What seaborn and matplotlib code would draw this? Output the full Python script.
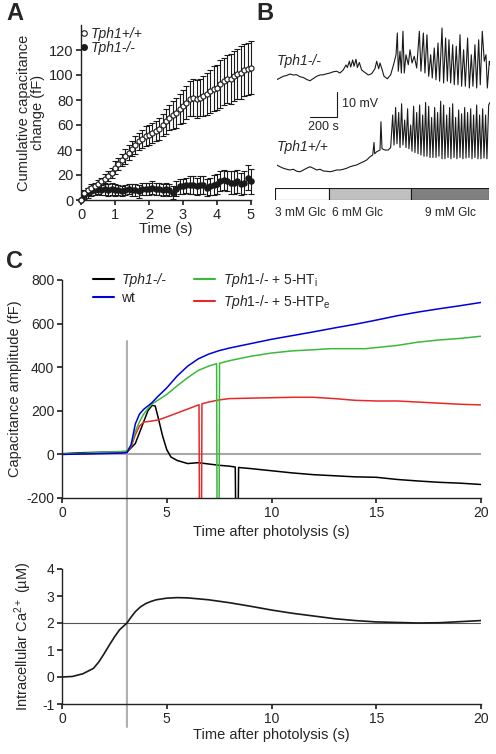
import numpy as np
import matplotlib
matplotlib.use("Agg")
import matplotlib.pyplot as plt
import seaborn as sns
from matplotlib.patches import ConnectionPatch
from matplotlib.lines import Line2D

#Style
sns.set_theme(style="ticks")
plt.rcParams["font.family"] = ["Liberation Sans", "DejaVu Sans"]
plt.rcParams["axes.unicode_minus"] = False
plt.rcParams["mathtext.fontset"] = "custom"
plt.rcParams["mathtext.rm"] = "Liberation Sans"
plt.rcParams["mathtext.it"] = "Liberation Sans:italic"
plt.rcParams["axes.edgecolor"] = "#222222"
plt.rcParams["axes.linewidth"] = 1.0
plt.rcParams["xtick.major.size"] = 3.5
plt.rcParams["ytick.major.size"] = 3.5
plt.rcParams["xtick.major.pad"] = 2
plt.rcParams["ytick.major.pad"] = 2
plt.rcParams["xtick.labelsize"] = 10
plt.rcParams["ytick.labelsize"] = 10
plt.rcParams["axes.labelsize"] = 10.5

#Panel A data (every 0.1 s)
t_a = np.linspace(0, 5, 51)
wt_mean = [0, 6, 8, 10, 11, 13, 15, 17, 19, 22, 26, 29, 32, 35, 38, 41, 44, 47, 49, 51,
           52, 54, 55, 57, 60, 63, 66, 68, 70, 73, 75, 78, 81, 82, 81, 82, 83, 85, 87, 89,
           90, 93, 95, 97, 97, 99, 101, 102, 104, 105, 106]
wt_err = [0, 2, 2, 3, 3, 3, 3, 4, 4, 4, 5, 5, 5, 6, 6, 6, 7, 7, 7, 8,
          8, 8, 8, 9, 9, 10, 10, 11, 12, 12, 13, 13, 14, 15, 15, 15, 16, 17, 17, 18,
          18, 19, 19, 19, 20, 20, 20, 21, 21, 21, 21]
ko_mean = [0, 4, 6, 7, 8, 9, 8, 9, 8, 9, 8, 8, 7, 8, 9, 8, 8, 7, 9, 9,
           9, 10, 9, 9, 8, 9, 8, 6, 9, 11, 11, 12, 12, 12, 11, 12, 12, 10, 11, 12,
           13, 15, 16, 15, 14, 14, 15, 13, 14, 18, 15]
ko_err = [0, 3, 4, 4, 4, 4, 4, 5, 5, 5, 5, 4, 4, 4, 4, 5, 5, 5, 5, 5,
          5, 5, 5, 5, 5, 5, 5, 5, 6, 6, 6, 6, 7, 7, 7, 7, 7, 7, 7, 8,
          8, 8, 8, 8, 9, 9, 9, 9, 9, 10, 10]

#Panel B data (time in s, membrane potential in mV, arbitrary offset)
t_ko = [0, 25, 50, 75, 100, 125, 150, 175, 200, 225, 250, 275, 300, 325, 350, 375, 400, 425, 450, 475,
        500, 520, 530, 545, 555, 570, 580, 595, 605, 620, 637, 662, 687, 712, 737, 750, 765, 775, 787, 805,
        830, 855, 880, 895, 905, 912, 925, 935, 947, 957, 970, 987, 1000, 1015, 1032, 1050, 1070, 1082, 1100, 1112,
        1127, 1140, 1155, 1167, 1182, 1195, 1210, 1222, 1240, 1252, 1267, 1280, 1292, 1305, 1320, 1332, 1347, 1360, 1375, 1387,
        1402, 1415, 1432, 1445, 1460, 1472, 1487, 1500, 1515, 1527, 1542, 1557, 1570, 1580, 1595, 1600]
mv_ko = [38.1, 38.8, 39.5, 39.8, 40.4, 40.0, 40.1, 39.3, 39.0, 38.2, 37.7, 38.6, 39.5, 40.0, 40.1, 40.5, 40.8, 41.3, 41.5, 40.8,
         42.1, 44.0, 43.0, 45.5, 43.2, 46.0, 43.5, 46.3, 43.0, 45.0, 42.0, 41.0, 40.0, 40.5, 42.5, 45.5, 42.5, 44.8, 42.8, 39.5,
         38.5, 40.1, 44.8, 48.1, 56.8, 41.5, 49.5, 40.8, 57.5, 40.8, 48.1, 44.1, 50.1, 44.8, 47.5, 42.8, 57.5, 41.5, 56.8, 40.8,
         56.1, 39.5, 48.1, 38.8, 50.8, 38.1, 52.8, 37.5, 58.8, 36.8, 54.8, 37.5, 54.1, 36.8, 52.1, 36.1, 51.5, 36.1, 56.1, 35.5,
         50.1, 35.5, 54.8, 34.8, 48.1, 35.5, 52.1, 34.8, 54.1, 36.1, 57.5, 45.5, 48.1, 34.8, 45.5, 44.1]
t_wt = [0, 25, 50, 75, 100, 125, 150, 175, 200, 225, 250, 275, 300, 325, 350, 375, 400, 425, 450, 475,
        500, 525, 550, 575, 600, 625, 650, 675, 700, 720, 730, 735, 750, 775, 782, 790, 812, 837, 855, 870,
        880, 892, 902, 915, 925, 937, 947, 960, 970, 982, 992, 1005, 1015, 1027, 1037, 1050, 1060, 1072, 1082, 1095,
        1105, 1117, 1127, 1140, 1150, 1162, 1172, 1185, 1195, 1207, 1217, 1230, 1240, 1252, 1262, 1275, 1285, 1297, 1307, 1320,
        1330, 1342, 1352, 1365, 1375, 1387, 1397, 1410, 1420, 1432, 1442, 1455, 1465, 1477, 1487, 1500, 1510, 1522, 1532, 1545,
        1555, 1567, 1577, 1590, 1600]
mv_wt = [4.0, 3.3, 2.7, 2.3, 2.0, 2.3, 1.5, 1.3, 2.0, 2.7, 3.3, 2.7, 2.0, 2.3, 1.6, 1.5, 1.3, 1.6, 2.0, 2.0,
         2.3, 2.7, 3.3, 3.7, 4.0, 4.7, 5.3, 6.0, 7.3, 8.0, 13.0, 8.5, 9.3, 10.0, 21.3, 10.5, 10.0, 10.0, 11.0, 24.0,
         12.0, 27.0, 12.5, 25.0, 11.0, 28.5, 12.0, 22.0, 11.0, 26.5, 10.5, 20.0, 9.5, 27.5, 9.0, 25.0, 8.5, 28.0, 8.0, 24.0,
         7.5, 29.0, 7.5, 27.5, 7.0, 23.0, 7.0, 27.0, 7.0, 25.0, 7.5, 29.5, 6.5, 28.0, 6.5, 24.0, 7.0, 27.0, 6.5, 28.5,
         7.0, 23.0, 6.5, 26.0, 7.0, 24.5, 6.5, 27.0, 6.8, 25.0, 7.0, 26.5, 6.5, 24.0, 7.0, 28.0, 6.5, 24.0, 6.5, 26.5,
         6.8, 24.0, 6.5, 28.0, 29.0]
glc_labels = ["3 mM Glc", "6 mM Glc", "9 mM Glc"]
glc_start = [0, 400, 1015]
glc_end = [400, 1015, 1600]
glc_colors = ["white", "#c0c0c0", "#808080"]

#Panel C data: capacitance (fF) after photolysis
t_ko_c = [0, 1, 2, 2.8, 3.1, 3.3, 3.5, 3.7, 3.9, 4.1, 4.3, 4.45, 4.6, 4.8, 5.0, 5.2, 5.5, 6.0, 6.5, 7.0,
          7.5, 8.0, 8.27, 8.29, 8.41, 8.43, 9, 10, 11, 12, 13, 14, 15, 16, 17, 18, 19, 20]
cap_ko = [3, 8, 10, 10, 11, 30, 50, 100, 150, 200, 225, 222, 165, 85, 22, -12, -28, -42, -38, -44,
          -50, -54, -58, -260, -260, -60, -65, -75, -85, -93, -98, -103, -105, -115, -122, -128, -132, -138]
t_wt_c = [0, 1, 2, 2.8, 3.1, 3.3, 3.5, 3.7, 3.9, 4.1, 4.3, 4.6, 5.0, 5.5, 6.0, 6.5, 7.0, 7.5, 8, 9,
          10, 11, 12, 13, 14, 15, 16, 17, 18, 19, 20]
cap_wt = [0, 2, 4, 6, 8, 45, 140, 185, 207, 222, 238, 268, 305, 360, 405, 438, 460, 476, 488, 508,
          528, 545, 562, 580, 597, 616, 636, 653, 668, 682, 697]
t_ht_c = [0, 1, 2, 2.8, 3.1, 3.3, 3.5, 3.7, 3.9, 4.1, 4.3, 4.6, 5.0, 5.5, 6.0, 6.5, 7.0, 7.38, 7.40, 7.50,
          7.52, 8.0, 9.0, 10.0, 11.0, 12.0, 12.8, 14.5, 15.0, 16.0, 17.0, 18.0, 19.0, 20]
cap_ht = [2, 5, 9, 13, 16, 40, 105, 150, 185, 210, 232, 250, 275, 315, 352, 385, 405, 416, -260, -260,
          418, 430, 450, 465, 475, 480, 485, 485, 490, 500, 515, 525, 532, 542]
t_htp_c = [0, 1, 2, 2.8, 3.1, 3.3, 3.5, 3.7, 3.9, 4.2, 4.6, 5.0, 5.5, 6.0, 6.54, 6.56, 6.66, 6.68, 7.0, 7.5,
           8.0, 9.0, 10.0, 11.0, 12.0, 13.0, 14.0, 15.0, 16.0, 17.0, 18.0, 19.0, 20]
cap_htp = [0, 3, 6, 8, 10, 35, 90, 130, 148, 152, 158, 172, 190, 208, 228, -260, -260, 232, 240, 250,
           256, 258, 260, 262, 262, 256, 248, 245, 245, 240, 235, 230, 227]

#Panel C data: intracellular Ca2+ (uM)
t_ca = [0, 0.5, 1, 1.5, 1.75, 2, 2.25, 2.5, 2.75, 3.1, 3.3, 3.5, 3.75, 4, 4.25, 4.5, 5, 5.5, 6, 7,
        8, 9, 10, 11, 12, 13, 14, 15, 16, 17, 18, 19, 20]
ca = [0.0, 0.02, 0.12, 0.32, 0.55, 0.85, 1.17, 1.48, 1.75, 2.0, 2.22, 2.42, 2.6, 2.72, 2.8, 2.86, 2.92, 2.94, 2.93, 2.86,
      2.75, 2.62, 2.48, 2.36, 2.26, 2.16, 2.09, 2.04, 2.02, 2.00, 2.01, 2.05, 2.09]
flash_t = 3.1

W, H = 496, 754
fig = plt.figure(figsize=(W / 100, H / 100), dpi=100)


def px_axes(l, t, r, b):
    ax = fig.add_axes([l / W, 1 - b / H, (r - l) / W, (b - t) / H])
    ax.patch.set_visible(False)
    return ax


#A: cumulative capacitance
axA = px_axes(81, 25, 251, 200)
axA.errorbar(t_a, ko_mean, yerr=ko_err, fmt="o", color="k", mfc="k", mec="k", ms=3.7,
             elinewidth=0.8, capsize=2, capthick=0.8, clip_on=False, zorder=3)
axA.errorbar(t_a, wt_mean, yerr=wt_err, fmt="o", color="k", mfc="white", mec="k", ms=3.7,
             mew=0.8, elinewidth=0.8, capsize=2, capthick=0.8, clip_on=False, zorder=4)
axA.set_xlim(0, 5)
axA.set_ylim(0, 140)
axA.set_xticks(range(0, 6))
axA.set_yticks(range(0, 121, 20))
axA.tick_params(labelsize=10.5)
axA.set_xlabel("Time (s)", labelpad=0, fontsize=10.5)
axA.set_ylabel("Cumulative capacitance\nchange (fF)", labelpad=3, linespacing=1.0, fontsize=10.5)
sns.despine(ax=axA)
handlesA = [Line2D([], [], marker="o", ls="", mfc="white", mec="k", mew=0.8, ms=4),
            Line2D([], [], marker="o", ls="", mfc="k", mec="k", ms=4)]
legA = axA.legend(handlesA, ["Tph1+/+", "Tph1-/-"], loc="upper left", bbox_to_anchor=(0.0, 0.99),
                  frameon=False, handlelength=0.5, handletextpad=0.2, labelspacing=0.0,
                  borderaxespad=0, borderpad=0, fontsize=10)
for txt in legA.get_texts():
    txt.set_fontstyle("italic")

#B: membrane potential traces
axB = px_axes(276.7, 20, 490, 175)
sns.lineplot(x=t_ko, y=mv_ko, ax=axB, color="k", lw=0.8, sort=False, estimator=None)
sns.lineplot(x=t_wt, y=mv_wt, ax=axB, color="k", lw=0.8, sort=False, estimator=None)
axB.set_xlim(0, 1600)
axB.set_ylim(0, 62)
axB.axis("off")
axB.text(0, 45.5, "Tph1-/-", fontstyle="italic", fontsize=10, va="center", ha="left")
axB.text(0, 11.2, "Tph1+/+", fontstyle="italic", fontsize=10, va="center", ha="left")
axB.plot([250, 450, 450], [23.3, 23.3, 33.3], color="k", lw=0.8)
axB.text(490, 28.4, "10 mV", fontsize=9, va="center", ha="left")
axB.text(350, 19.4, "200 s", fontsize=9, va="center", ha="center")

axBar = px_axes(275, 188, 489.3, 200)
axBar.barh(0, np.array(glc_end) - np.array(glc_start), left=glc_start, height=1,
           color=glc_colors, edgecolor="k", lw=0.8)
axBar.set_xlim(0, 1600)
axBar.set_ylim(-0.5, 0.5)
axBar.axis("off")
for x, lab in zip([190, 618, 1310], glc_labels):
    axBar.text(x, -1.6, lab, fontsize=8.6, ha="center", va="center")

#C top: capacitance traces
axC1 = px_axes(62, 280, 481, 498)
axC1.axhline(0, color="#a8a8a8", lw=1.5, zorder=1)
series = [(t_ko_c, cap_ko, "#000000", "Tph1-/-"),
          (t_htp_c, cap_htp, "#e82828", r"$\mathit{Tph1}$-/- + 5-HTP$_\mathrm{e}$"),
          (t_ht_c, cap_ht, "#3cb83c", r"$\mathit{Tph1}$-/- + 5-HT$_\mathrm{i}$"),
          (t_wt_c, cap_wt, "#0000dd", "wt")]
for t, v, c, lab in series:
    sns.lineplot(x=t, y=v, ax=axC1, color=c, lw=1.1, sort=False, estimator=None)
axC1.set_xlim(0, 20)
axC1.set_ylim(-200, 800)
axC1.set_xticks(range(0, 21, 5))
axC1.set_yticks(range(-200, 801, 200))
axC1.set_xlabel("Time after photolysis (s)", labelpad=4)
axC1.set_ylabel("Capacitance amplitude (fF)", labelpad=3)
sns.despine(ax=axC1)
order = [0, 3, 2, 1]
handlesC = [Line2D([], [], color=series[i][2], lw=1.5) for i in order]
labelsC = [series[i][3] for i in order]
legC = fig.legend(handlesC, labelsC, ncol=2, loc="upper left", bbox_to_anchor=(93 / W, 1 - 271 / H),
                  frameon=False, handlelength=1.5, handletextpad=0.55, columnspacing=2.0,
                  labelspacing=0.3, borderaxespad=0, borderpad=0, fontsize=10)
legC.get_texts()[0].set_fontstyle("italic")

#C bottom: Ca2+
axC2 = px_axes(62, 569, 481, 704)
axC2.axhline(2, color="#555555", lw=0.8, zorder=1)
sns.lineplot(x=t_ca, y=ca, ax=axC2, color="k", lw=1.2, sort=False, estimator=None)
axC2.set_xlim(0, 20)
axC2.set_ylim(-1, 4)
axC2.set_xticks(range(0, 21, 5))
axC2.set_yticks(range(-1, 5))
axC2.set_xlabel("Time after photolysis (s)", labelpad=2)
axC2.set_ylabel("Intracellular Ca$^{2+}$ (µM)", labelpad=6)
sns.despine(ax=axC2)

#flash marker across both C panels, behind the traces
con = ConnectionPatch(xyA=(flash_t, 520), coordsA=axC1.transData,
                      xyB=(flash_t, -1.85), coordsB=axC2.transData,
                      color="#b0b0b0", lw=1.5, zorder=-1)
fig.add_artist(con)

#panel letters
for x, y, s in [(6, 2, "A"), (256, 2, "B"), (6, 250, "C")]:
    fig.text(x / W, 1 - y / H, s, fontsize=17, fontweight="bold", ha="left", va="top")

fig.savefig("out.png", dpi=100)
